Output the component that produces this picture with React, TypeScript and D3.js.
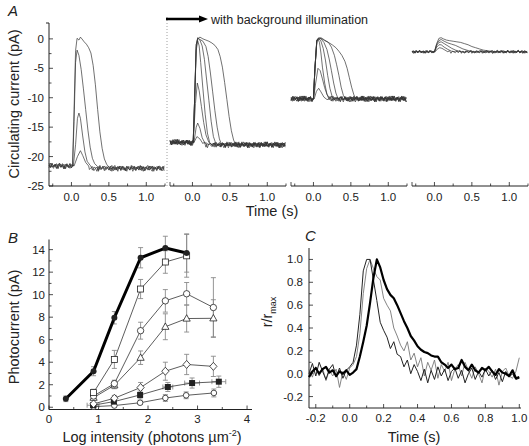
import React from "react";
import * as d3 from "d3";

const FONT = "'Liberation Sans', Arial, Helvetica, sans-serif";

// ---------- Panel A data ----------
const A_Y_TICKS = [0, -5, -10, -15, -20, -25];
const A_X_LABELS = [0, 0.5, 1.0];
const A_PRE = [-21.6, -17.6, -10.2, -2.2];
const A_POST = [-22.0, -18.0, -10.2, -2.2];

const NOISE_1 = [0.2,-0.3,0.4,-0.1,0.3,-0.4,0.1,0.5,-0.2,0.0,0.3,-0.5,0.2,-0.1,0.4,-0.3,0.1,0.3,-0.4,0.2,-0.2,0.5,-0.1,0.0,-0.4,0.3,0.1,-0.3,0.4,-0.2,0.2,-0.5,0.3,0.0,-0.2,0.4,-0.3,0.1,0.2,-0.4,0.5,-0.1,0.0,0.3,-0.3,0.2,-0.5,0.4,-0.2,0.1,0.3,-0.4,0.0,0.2,-0.3,0.5,-0.1,0.2,-0.4,0.3,0.1,-0.2,0.4,-0.5,0.2,0.0,-0.3,0.3,-0.1,0.4,-0.2,0.1,-0.4,0.3,0.0,-0.3,0.2,0.4,-0.2,0.1];
const NOISE_2 = [-0.1,0.3,-0.4,0.2,0.0,0.4,-0.3,0.1,-0.2,0.5,-0.1,0.2,-0.4,0.3,0.0,-0.2,0.4,-0.5,0.1,0.3,-0.3,0.0,0.2,-0.1,0.4,-0.4,0.2,0.1,-0.3,0.5,-0.2,0.0,0.3,-0.4,0.1,-0.1,0.4,-0.3,0.2,0.0,-0.5,0.3,-0.2,0.1,0.4,-0.1,0.2,-0.3,0.0,0.5,-0.4,0.2,-0.1,0.3,0.0,-0.2,0.4,-0.3,0.1,-0.5,0.3,0.2,-0.1,0.0,0.4,-0.3,0.1,-0.2,0.5,-0.4,0.2,0.0,0.3,-0.1,-0.3,0.4,-0.2,0.1,0.0,0.3];
const NOISE_3 = [0.0,0.4,-0.2,-0.5,0.3,0.1,-0.3,0.2,0.4,-0.1,-0.4,0.3,0.0,0.2,-0.3,0.5,-0.2,0.1,-0.1,0.4,-0.5,0.2,0.3,-0.2,0.0,-0.3,0.4,0.1,-0.4,0.2,0.0,0.3,-0.1,-0.3,0.5,-0.2,0.1,0.2,-0.4,0.3,0.0,-0.1,0.4,-0.3,0.2,0.1,-0.5,0.3,-0.2,0.0,0.4,-0.1,-0.3,0.2,0.3,-0.4,0.1,0.0,0.5,-0.2,-0.1,0.3,-0.4,0.2,0.1,-0.3,0.4,0.0,-0.2,0.3,-0.5,0.1,0.2,-0.1,0.4,-0.3,0.0,0.2,-0.4,0.1];
const NOISE_4 = [0.1,-0.15,0.2,-0.05,0.15,-0.2,0.05,0.25,-0.1,0.0,0.15,-0.25,0.1,-0.05,0.2,-0.15,0.05,0.15,-0.2,0.1,-0.1,0.25,-0.05,0.0,-0.2,0.15,0.05,-0.15,0.2,-0.1,0.1,-0.25,0.15,0.0,-0.1,0.2,-0.15,0.05,0.1,-0.2,0.25,-0.05,0.0,0.15,-0.15,0.1,-0.25,0.2,-0.1,0.05,0.15,-0.2,0.0,0.1,-0.15,0.25,-0.05,0.1,-0.2,0.15,0.05,-0.1,0.2,-0.25,0.1,0.0,-0.15,0.15,-0.05,0.2,-0.1,0.05,-0.2,0.15,0.0,-0.15,0.1,0.2,-0.1,0.05];

// dark adapted
const A1_TRACES = [
  [[0.015,-21.6],[0.035,-12],[0.055,-2],[0.075,0.1],[0.1,-0.2],[0.12,0.3],[0.14,0.0],[0.17,-0.5],[0.2,-0.9],[0.23,-1.5],[0.26,-2.4],[0.29,-4.5],[0.32,-7.8],[0.35,-12],[0.38,-15.8],[0.41,-18.6],[0.44,-20.4],[0.47,-21.3],[0.5,-21.8]],
  [[0.015,-21.6],[0.035,-14],[0.055,-4],[0.075,-1.9],[0.1,-2.8],[0.13,-5.2],[0.16,-8.5],[0.19,-12],[0.22,-15.5],[0.25,-18.4],[0.28,-20.3],[0.31,-21.2],[0.35,-21.7]],
  [[0.025,-21.6],[0.055,-18],[0.08,-13.5],[0.1,-12.6],[0.12,-13.5],[0.15,-16.5],[0.18,-19.2],[0.21,-20.8],[0.25,-21.5]],
  [[0.035,-21.6],[0.08,-20.0],[0.12,-19.0],[0.15,-19.8],[0.19,-21.0],[0.23,-21.6]],
];
// background 1
const A2_TRACES = [
  [[0.01,-17.6],[0.03,-10],[0.05,-2],[0.07,-0.3],[0.09,-1.2],[0.11,-4],[0.14,-8.5],[0.17,-12.8],[0.2,-16],[0.23,-17.6],[0.26,-18]],
  [[0.01,-17.6],[0.03,-10],[0.05,-1.5],[0.07,0.1],[0.1,-0.2],[0.13,-1.2],[0.16,-3.5],[0.19,-7],[0.22,-10.5],[0.25,-14],[0.28,-16.6],[0.31,-17.7],[0.34,-18]],
  [[0.01,-17.6],[0.03,-10],[0.05,-1],[0.07,0.2],[0.1,-0.1],[0.14,-0.4],[0.18,-1.3],[0.21,-3],[0.24,-5.8],[0.27,-9],[0.3,-12.2],[0.33,-15],[0.36,-17],[0.39,-18]],
  [[0.01,-17.6],[0.03,-10],[0.05,-1],[0.07,0.0],[0.1,0.3],[0.14,0.0],[0.18,-0.2],[0.22,-0.4],[0.26,-0.7],[0.3,-1.1],[0.34,-1.8],[0.37,-3.0],[0.4,-4.8],[0.43,-7.4],[0.46,-10.3],[0.49,-13.2],[0.52,-15.6],[0.55,-17.2],[0.58,-18.0]],
  [[0.01,-17.6],[0.04,-11],[0.065,-7.5],[0.09,-8.8],[0.12,-11.5],[0.15,-14.2],[0.18,-16.3],[0.22,-17.6],[0.26,-18]],
  [[0.02,-17.6],[0.05,-15],[0.07,-14.3],[0.1,-15.2],[0.13,-16.8],[0.17,-17.8]],
  [[0.02,-17.6],[0.06,-16.6],[0.1,-17.0],[0.14,-17.8]],
];
// background 2
const A3_TRACES = [
  [[0.0,-10.2],[0.02,-5],[0.045,-0.5],[0.06,0.0],[0.08,-0.6],[0.1,-2.4],[0.12,-4.8],[0.15,-7.5],[0.18,-9.4],[0.21,-10.3]],
  [[0.0,-10.2],[0.02,-5],[0.045,-0.3],[0.07,0.1],[0.1,-0.4],[0.13,-1.6],[0.16,-3.6],[0.19,-6.2],[0.22,-8.4],[0.25,-9.8],[0.28,-10.4]],
  [[0.0,-10.2],[0.02,-5],[0.045,-0.2],[0.07,0.2],[0.1,0.0],[0.14,-0.6],[0.18,-1.8],[0.21,-3.4],[0.24,-5.4],[0.27,-7.5],[0.3,-9.2],[0.33,-10.2]],
  [[0.0,-10.2],[0.02,-5],[0.045,-0.2],[0.07,0.1],[0.1,0.2],[0.15,-0.2],[0.2,-0.6],[0.24,-1.4],[0.28,-2.8],[0.31,-4.4],[0.34,-6.2],[0.37,-8.2],[0.4,-9.6],[0.43,-10.3]],
  [[0.0,-10.2],[0.02,-5],[0.045,-0.4],[0.07,-0.1],[0.1,0.1],[0.15,-0.3],[0.2,-0.6],[0.25,-1.0],[0.3,-1.5],[0.34,-2.1],[0.38,-2.8],[0.42,-3.8],[0.45,-5.0],[0.48,-6.6],[0.51,-8.2],[0.54,-9.5],[0.57,-10.3]],
  [[0.0,-10.2],[0.03,-7.5],[0.06,-5.0],[0.09,-5.4],[0.12,-6.8],[0.15,-8.3],[0.18,-9.4],[0.22,-10.2]],
  [[0.01,-10.2],[0.04,-8.9],[0.07,-8.4],[0.1,-9.0],[0.14,-9.9],[0.18,-10.3]],
];
// background 3
const A4_TRACES = [
  [[0.0,-2.2],[0.03,-0.8],[0.06,0.1],[0.09,0.2],[0.12,0.0],[0.16,-0.2],[0.2,-0.3],[0.25,-0.4],[0.3,-0.5],[0.35,-0.6],[0.4,-0.8],[0.45,-1.0],[0.5,-1.3],[0.55,-1.5],[0.6,-1.7],[0.65,-1.9],[0.7,-2.0],[0.76,-2.2]],
  [[0.0,-2.2],[0.03,-0.9],[0.06,-0.3],[0.09,-0.1],[0.13,-0.4],[0.18,-0.7],[0.23,-0.9],[0.28,-1.1],[0.33,-1.4],[0.38,-1.7],[0.43,-1.9],[0.48,-2.1],[0.52,-2.2]],
  [[0.0,-2.2],[0.03,-1.1],[0.06,-0.6],[0.09,-0.5],[0.13,-0.8],[0.18,-1.2],[0.23,-1.6],[0.28,-1.9],[0.33,-2.1],[0.38,-2.2]],
  [[0.0,-2.2],[0.03,-1.4],[0.06,-1.0],[0.09,-1.0],[0.13,-1.4],[0.18,-1.8],[0.23,-2.1],[0.27,-2.2]],
  [[0.01,-2.2],[0.04,-1.7],[0.07,-1.5],[0.1,-1.6],[0.14,-1.9],[0.18,-2.2]],
];

// ---------- Panel B data ----------
const B_X_FC = [0.34, 0.9, 1.32, 1.85, 2.35, 2.78];
const B_Y_FC = [0.75, 3.2, 7.95, 13.28, 14.14, 13.7];
const B_E_FC = [0.25, 0.4, 0.55, 0.9, 1.05, 1.7];

const B_X_OSQ = [0.9, 1.32, 1.85, 2.35, 2.78];
const B_Y_OSQ = [1.3, 4.25, 10.5, 12.9, 13.45];
const B_E_OSQ = [0.3, 0.8, 0.85, 1.0, 1.9];

const B_X_OC = [0.9, 1.32, 1.85, 2.35, 2.78, 3.32];
const B_Y_OC = [1.0, 2.1, 6.8, 9.45, 10.08, 8.86];
const B_E_OC = [0.2, 0.3, 0.75, 1.0, 1.0, 2.65];

const B_X_TRI = [0.9, 1.32, 1.85, 2.35, 2.78, 3.32];
const B_Y_TRI = [0.85, 1.95, 4.4, 7.15, 7.88, 7.9];
const B_E_TRI = [0.2, 0.3, 0.6, 1.15, 1.2, 1.65];

const B_X_DIA = [0.9, 1.32, 1.85, 2.35, 2.78, 3.32];
const B_Y_DIA = [0.3, 0.8, 1.75, 3.2, 3.8, 3.63];
const B_E_DIA = [0.1, 0.25, 0.45, 0.8, 0.9, 0.9];

const B_X_FSQ = [0.89, 1.31, 1.84, 2.4, 2.89, 3.43];
const B_Y_FSQ = [0.18, 0.5, 1.09, 1.8, 2.15, 2.27];
const B_E_FSQ = [0.15, 0.2, 0.35, 0.4, 0.45, 0.5];
const B_XE_FSQ = [0.12, 0.05, 0.05, 0.1, 0.15, 0.14];

const B_X_SC = [0.9, 1.32, 1.84, 2.35, 2.77, 3.33];
const B_Y_SC = [0.05, 0.15, 0.4, 0.82, 1.06, 1.27];
const B_E_SC = [0.05, 0.1, 0.15, 0.3, 0.3, 0.35];

const B_X_LABELS = [0, 1, 2, 3, 4];
const B_Y_LABELS = [0, 2, 4, 6, 8, 10, 12, 14];

// ---------- Panel C data ----------
const C_T_START = -0.24;
const C_T_STEP = 0.02;
const C_THICK = [-0.03,0.02,0.05,0.0,0.04,0.06,0.01,0.03,-0.02,0.02,0.0,0.03,-0.01,0.01,0.04,0.15,0.28,0.42,0.62,0.84,1.0,0.93,0.82,0.74,0.69,0.66,0.60,0.53,0.46,0.40,0.33,0.29,0.24,0.21,0.19,0.18,0.16,0.15,0.15,0.10,0.08,0.05,0.08,0.04,0.05,0.12,0.06,0.03,0.08,0.03,0.01,0.05,0.03,0.06,0.02,-0.01,0.04,0.01,0.0,-0.02,0.03,-0.04,-0.03];
const C_DARK = [0.0,0.09,-0.02,0.10,0.02,-0.05,0.04,0.08,-0.03,0.05,-0.04,0.03,0.06,0.10,0.25,0.52,0.90,1.0,1.0,0.82,0.64,0.45,0.38,0.32,0.22,0.28,0.17,0.15,0.06,0.12,0.0,0.08,0.02,-0.06,0.04,-0.08,0.03,-0.05,0.06,-0.02,0.04,-0.06,0.02,0.05,-0.04,0.03,-0.08,0.0,0.05,-0.05,0.02,-0.03,0.04,-0.02,0.03,-0.05,0.01,-0.07,0.02,-0.03,0.0,-0.05,-0.04];
const C_GRAY = [0.04,-0.03,0.06,-0.02,0.05,-0.06,0.03,-0.02,0.04,-0.12,0.02,-0.05,0.05,0.08,0.15,0.35,0.70,0.92,1.0,0.92,0.85,0.82,0.66,0.60,0.55,0.40,0.33,0.25,0.20,0.28,0.12,0.18,0.06,0.14,-0.02,0.10,0.03,0.12,-0.04,0.08,0.02,0.10,-0.06,0.04,0.08,-0.02,0.10,0.03,-0.04,0.06,0.0,-0.08,0.05,0.02,-0.03,0.04,-0.10,0.02,0.05,-0.02,-0.04,0.02,0.14];
const C_LABELS = [-0.2, 0, 0.2, 0.4, 0.6, 0.8, 1.0];

const fmt1 = (v: number) => (v < -1e-9 ? "-" : "") + Math.abs(v).toFixed(1);

function buildTrace(keys: number[][], pre: number, post: number, noise: number[], offset: number) {
  const grid = d3.range(0, 78);
  const first = keys[0][0];
  const last = keys[keys.length - 1][0];
  const pts: [number, number][] = [];
  grid.forEach((i) => {
    const t = -0.3 + 0.02 * i;
    if (t < first - 1e-9) pts.push([t, pre + noise[(i + offset) % noise.length]]);
  });
  keys.forEach((k) => pts.push([k[0], k[1]]));
  grid.forEach((i) => {
    const t = -0.3 + 0.02 * i;
    if (t > last + 1e-9) pts.push([Math.min(t, 1.25), post + noise[(i + offset) % noise.length]]);
  });
  return pts;
}

export default function App() {
  const ink = "#222";
  const yA = d3.scaleLinear().domain([-25, 2.7]).range([186, 23]);
  const subStarts = [49, 170, 291, 412];
  const subW = 116;
  const xAs = subStarts.map((s) => d3.scaleLinear().domain([-0.3, 1.25]).range([s, s + subW]));
  const allA = [A1_TRACES, A2_TRACES, A3_TRACES, A4_TRACES];
  const noises = [NOISE_1, NOISE_2, NOISE_3];

  const xB = d3.scaleLinear().domain([0, 4.1]).range([49, 252]);
  const yB = d3.scaleLinear().domain([-0.2, 14.9]).range([409.5, 239.5]);

  const xC = d3.scaleLinear().domain([-0.24, 1.01]).range([309, 521]);
  const yC = d3.scaleLinear().domain([-0.3, 1.1]).range([408, 248]);

  const lineA = (sx: any) => d3.line<[number, number]>().x((d) => sx(d[0])).y((d) => yA(d[1]));
  const lineB = d3.line<[number, number]>().x((d) => xB(d[0])).y((d) => yB(d[1]));
  const lineC = d3.line<number>().x((_, i) => xC(C_T_START + C_T_STEP * i)).y((d) => yC(d));

  const tickFont = { fontFamily: FONT, fontSize: 11.5, fill: ink };
  const titleFont = { fontFamily: FONT, fontSize: 14.5, fill: ink };

  const bSeries = [
    { xs: B_X_FC, ys: B_Y_FC, es: B_E_FC, m: "fc", lw: 3 },
    { xs: B_X_OSQ, ys: B_Y_OSQ, es: B_E_OSQ, m: "osq", lw: 0.8 },
    { xs: B_X_OC, ys: B_Y_OC, es: B_E_OC, m: "oc", lw: 0.8 },
    { xs: B_X_TRI, ys: B_Y_TRI, es: B_E_TRI, m: "tri", lw: 0.8 },
    { xs: B_X_DIA, ys: B_Y_DIA, es: B_E_DIA, m: "dia", lw: 0.8 },
    { xs: B_X_FSQ, ys: B_Y_FSQ, es: B_E_FSQ, xe: B_XE_FSQ, m: "fsq", lw: 0.8 },
    { xs: B_X_SC, ys: B_Y_SC, es: B_E_SC, m: "sc", lw: 0.8 },
  ];

  const marker = (m: string, cx: number, cy: number, key: string) => {
    const st = { stroke: ink, strokeWidth: 0.8 };
    switch (m) {
      case "fc": return <circle key={key} cx={cx} cy={cy} r={3} fill={ink} />;
      case "osq": return <rect key={key} x={cx - 3} y={cy - 3} width={6} height={6} fill="white" {...st} />;
      case "oc": return <circle key={key} cx={cx} cy={cy} r={3.2} fill="white" {...st} />;
      case "tri": return <path key={key} d={`M${cx},${cy - 3.8}L${cx + 3.6},${cy + 2.6}L${cx - 3.6},${cy + 2.6}Z`} fill="white" {...st} />;
      case "dia": return <path key={key} d={`M${cx},${cy - 4}L${cx + 3.6},${cy}L${cx},${cy + 4}L${cx - 3.6},${cy}Z`} fill="white" {...st} />;
      case "fsq": return <rect key={key} x={cx - 3} y={cy - 3} width={6} height={6} fill={ink} />;
      default: return <circle key={key} cx={cx} cy={cy} r={2.8} fill="white" {...st} />;
    }
  };

  const errColor = "#8a8a8a";

  return (
    <svg width={529} height={446} style={{ position: "absolute", left: 0, top: 0, background: "white" }}>
      {/* ================= Panel A ================= */}
      <text x={8} y={16} style={{ ...titleFont, fontStyle: "italic", fontSize: 15 }}>A</text>
      <line x1={49} x2={49} y1={yA(2.7)} y2={yA(-25)} stroke={ink} strokeWidth={1} />
      <line x1={46} x2={49} y1={yA(2.7)} y2={yA(2.7)} stroke={ink} strokeWidth={1} />
      {d3.range(-25, 0.01, 2.5).map((v) => (
        <line key={"ayt" + v} x1={49} x2={49 + (v % 5 === 0 ? 4 : 2.5)} y1={yA(v)} y2={yA(v)} stroke={ink} strokeWidth={0.8} />
      ))}
      {A_Y_TICKS.map((v) => (
        <text key={"ayl" + v} x={44} y={yA(v) + 4} textAnchor="end" style={tickFont}>{v === 0 ? "0" : "-" + Math.abs(v)}</text>
      ))}
      <text transform={`translate(19,${104}) rotate(-90)`} textAnchor="middle" style={titleFont}>Circulating current (pA)</text>

      {xAs.map((sx, si) => (
        <g key={"sub" + si}>
          <line x1={sx.range()[0]} x2={sx.range()[1]} y1={186} y2={186} stroke={ink} strokeWidth={1} />
          {d3.range(-0.25, 1.26, 0.25).map((t) => (
            <line key={"axt" + t} x1={sx(t)} x2={sx(t)} y1={186} y2={186 - (Math.abs(t * 2 - Math.round(t * 2)) < 1e-6 ? 4 : 2.5)} stroke={ink} strokeWidth={0.8} />
          ))}
          {si > 0 && <line x1={sx.range()[0]} x2={sx.range()[0]} y1={186} y2={182} stroke={ink} strokeWidth={0.8} />}
          {A_X_LABELS.map((t) => (
            <text key={"axl" + t} x={sx(t)} y={201} textAnchor="middle" style={tickFont}>{t.toFixed(1)}</text>
          ))}
          {allA[si].map((keys, ti) => {
            const pts = buildTrace(keys, A_PRE[si], A_POST[si], si === 3 ? NOISE_4 : noises[(ti + si) % 3], ti * 7 + si * 3);
            return <path key={"tr" + ti} d={lineA(sx)(pts) || ""} fill="none" stroke="#333" strokeWidth={0.7} strokeLinejoin="round" />;
          })}
        </g>
      ))}
      <text x={272} y={216} textAnchor="middle" style={titleFont}>Time (s)</text>
      <line x1={167} x2={167} y1={17} y2={186} stroke="#888" strokeWidth={0.8} strokeDasharray="1,2" />
      <line x1={166} x2={201} y1={19} y2={19} stroke="#000" strokeWidth={2.5} />
      <path d="M199,15.5 L208,19 L199,22.5 Z" fill="#000" />
      <text x={211} y={23.5} style={{ fontFamily: FONT, fontSize: 12.5, fill: ink }}>with background illumination</text>

      {/* ================= Panel B ================= */}
      <text x={8} y={243} style={{ ...titleFont, fontStyle: "italic", fontSize: 15 }}>B</text>
      <line x1={49} x2={49} y1={yB(14.9)} y2={yB(-0.2)} stroke={ink} strokeWidth={1} />
      <line x1={49} x2={252} y1={yB(-0.2)} y2={yB(-0.2)} stroke={ink} strokeWidth={1} />
      {d3.range(0, 14.5, 1).map((v) => (
        <line key={"byt" + v} x1={49} x2={49 + (v % 2 === 0 ? 4 : 2.5)} y1={yB(v)} y2={yB(v)} stroke={ink} strokeWidth={0.8} />
      ))}
      {B_Y_LABELS.map((v) => (
        <text key={"byl" + v} x={45} y={yB(v) + 4} textAnchor="end" style={tickFont}>{v}</text>
      ))}
      {d3.range(0, 4.01, 0.5).map((v) => (
        <line key={"bxt" + v} x1={xB(v)} x2={xB(v)} y1={yB(-0.2)} y2={yB(-0.2) - (v % 1 === 0 ? 4 : 2.5)} stroke={ink} strokeWidth={0.8} />
      ))}
      {B_X_LABELS.map((v) => (
        <text key={"bxl" + v} x={xB(v)} y={423} textAnchor="middle" style={tickFont}>{v}</text>
      ))}
      <text transform={`translate(19,${327}) rotate(-90)`} textAnchor="middle" style={titleFont}>Photocurrent (pA)</text>
      <text x={152} y={442} textAnchor="middle" style={titleFont}>
        Log intensity (photons µm<tspan dy={-6} fontSize={9}>-2</tspan><tspan dy={6}>)</tspan>
      </text>
      {bSeries.map((s, si) => (
        <g key={"be" + si}>
          {s.xs.map((x, i) => {
            const cx = xB(x);
            const y1 = yB(s.ys[i] + s.es[i]);
            const y2 = yB(s.ys[i] - s.es[i]);
            return (
              <g key={i}>
                <line x1={cx} x2={cx} y1={y1} y2={y2} stroke={errColor} strokeWidth={0.9} />
                <line x1={cx - 2.5} x2={cx + 2.5} y1={y1} y2={y1} stroke={errColor} strokeWidth={0.9} />
                <line x1={cx - 2.5} x2={cx + 2.5} y1={y2} y2={y2} stroke={errColor} strokeWidth={0.9} />
                {s.xe && s.xe[i] > 0.06 && (
                  <g>
                    <line x1={xB(x - s.xe[i])} x2={xB(x + s.xe[i])} y1={yB(s.ys[i])} y2={yB(s.ys[i])} stroke={errColor} strokeWidth={0.9} />
                    <line x1={xB(x - s.xe[i])} x2={xB(x - s.xe[i])} y1={yB(s.ys[i]) - 2.5} y2={yB(s.ys[i]) + 2.5} stroke={errColor} strokeWidth={0.9} />
                    <line x1={xB(x + s.xe[i])} x2={xB(x + s.xe[i])} y1={yB(s.ys[i]) - 2.5} y2={yB(s.ys[i]) + 2.5} stroke={errColor} strokeWidth={0.9} />
                  </g>
                )}
              </g>
            );
          })}
        </g>
      ))}
      {bSeries.slice().reverse().map((s, si) => (
        <path key={"bl" + si} d={lineB(s.xs.map((x, i) => [x, s.ys[i]] as [number, number])) || ""} fill="none" stroke={s.lw > 2 ? "#000" : "#333"} strokeWidth={s.lw} strokeLinejoin="round" />
      ))}
      {bSeries.slice().reverse().map((s, si) => (
        <g key={"bm" + si}>{s.xs.map((x, i) => marker(s.m, xB(x), yB(s.ys[i]), s.m + i))}</g>
      ))}

      {/* ================= Panel C ================= */}
      <text x={305} y={241} style={{ ...titleFont, fontStyle: "italic", fontSize: 15 }}>C</text>
      <line x1={309} x2={309} y1={248} y2={408} stroke={ink} strokeWidth={1} />
      <line x1={309} x2={521} y1={408} y2={408} stroke={ink} strokeWidth={1} />
      {d3.range(-0.2, 1.05, 0.1).map((v) => (
        <line key={"cyt" + v.toFixed(1)} x1={309} x2={309 + (Math.round(v * 10) % 2 === 0 ? 4 : 2.5)} y1={yC(v)} y2={yC(v)} stroke={ink} strokeWidth={0.8} />
      ))}
      {C_LABELS.map((v) => (
        <text key={"cyl" + v} x={303} y={yC(v) + 4} textAnchor="end" style={tickFont}>{fmt1(v)}</text>
      ))}
      {d3.range(-0.2, 1.05, 0.1).map((v) => (
        <line key={"cxt" + v.toFixed(1)} x1={xC(v)} x2={xC(v)} y1={408} y2={408 - (Math.round(v * 10) % 2 === 0 ? 4 : 2.5)} stroke={ink} strokeWidth={0.8} />
      ))}
      {C_LABELS.map((v) => (
        <text key={"cxl" + v} x={xC(v)} y={422} textAnchor="middle" style={tickFont}>{fmt1(v)}</text>
      ))}
      <text x={414} y={442} textAnchor="middle" style={titleFont}>Time (s)</text>
      <text transform={`translate(272,${312}) rotate(-90)`} textAnchor="middle" style={titleFont}>
        r/r<tspan dy={4} fontSize={9}>max</tspan>
      </text>
      <path d={lineC(C_GRAY) || ""} fill="none" stroke="#777" strokeWidth={0.9} strokeLinejoin="round" />
      <path d={lineC(C_DARK) || ""} fill="none" stroke="#222" strokeWidth={1.0} strokeLinejoin="round" />
      <path d={lineC(C_THICK) || ""} fill="none" stroke="#000" strokeWidth={2.2} strokeLinejoin="round" />
    </svg>
  );
}
